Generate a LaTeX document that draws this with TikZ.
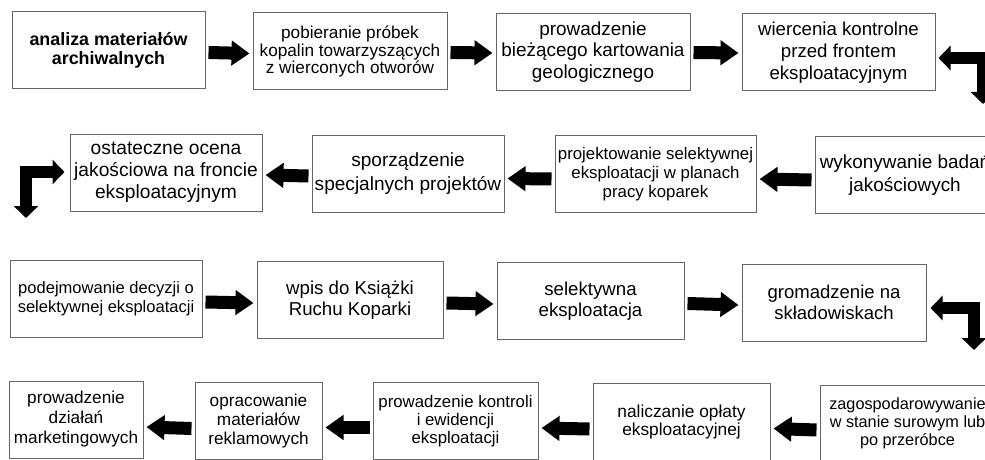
\documentclass[tikz,border=0pt]{standalone}
\usepackage{fontspec}
\setmainfont{Liberation Sans}
\usetikzlibrary{arrows.meta}

\tikzset{
  box/.style={draw=black!60, line width=0.75pt, align=center, inner sep=1pt, minimum height=77*0.75pt},
  wd/.style={minimum width=#1*0.75pt},
  fs/.style 2 args={font=\fontsize{#1}{#2}\selectfont},
  blk/.style={line width=9.75pt, -{Triangle[length=13.5pt, width=18pt]}},
  elbow/.style={line width=9pt, {Triangle[length=9pt, width=18pt]}-{Triangle[length=9pt, width=18pt]}},
}

\begin{document}
\begin{tikzpicture}[x=0.75pt, y=-0.75pt]
  \useasboundingbox (0,0) rectangle (985,460);
  \clip (0,0) rectangle (985,460);
  \fill[white] (0,0) rectangle (985,460);

  % row 1
  \node[box, wd=193, font=\fontsize{13.4}{14}\selectfont\bfseries] (a1) at (108.5,50.5) {analiza materiałów\\archiwalnych};
  \node[box, wd=194, fs={12.9}{13.3}] (a2) at (350,51.5) {pobieranie próbek\\kopalin towarzyszących\\z wierconych otworów};
  \node[box, wd=194, fs={14.2}{16}] (a3) at (593,52) {prowadzenie\\bieżącego kartowania\\geologicznego};
  \node[box, wd=193, fs={14}{16.5}] (a4) at (838.5,52.5) {wiercenia kontrolne\\przed frontem\\eksploatacyjnym};

  % row 2
  \node[box, wd=192, fs={14.4}{16.5}] (b1) at (166,172.5) {ostateczne ocena\\jakościowa na froncie\\eksploatacyjnym};
  \node[box, wd=192, fs={14.3}{18}] (b2) at (408,173.5) {sporządzenie\\specjalnych projektów};
  \node[box, wd=201, fs={12.6}{14.3}] (b3) at (655.5,174) {projektowanie selektywnej\\eksploatacji w planach\\pracy koparek};
  \node[box, wd=180, fs={14.2}{17}] (b4) at (905,175) {wykonywanie badań\\jakościowych};

  % row 3
  \node[box, wd=192, fs={12.4}{14.3}] (c1) at (106,299) {podejmowanie decyzji o\\selektywnej eksploatacji};
  \node[box, wd=186, fs={14}{15.8}] (c2) at (350,300) {wpis do Książki\\Ruchu Koparki};
  \node[box, wd=187, fs={14}{15.8}] (c3) at (590.5,301) {selektywna\\eksploatacja};
  \node[box, wd=184, fs={13.9}{15.8}] (c4) at (834,302.5) {gromadzenie na\\składowiskach};

  % row 4
  \node[box, wd=134, fs={12.9}{15}] (d1) at (76,419.5) {prowadzenie\\działań\\marketingowych};
  \node[box, wd=127, fs={12.9}{14.3}] (d2) at (258.5,421) {opracowanie\\materiałów\\reklamowych};
  \node[box, wd=165, fs={12.6}{13.5}] (d3) at (455.5,421) {prowadzenie kontroli\\i ewidencji\\eksploatacji};
  \node[box, wd=177, fs={13}{13.8}] (d4) at (681.5,422) {naliczanie opłaty\\eksploatacyjnej};
  \node[box, wd=175, fs={12.2}{13.7}] (d5) at (907.5,423.5) {zagospodarowywanie\\w stanie surowym lub\\po przeróbce};

  % free ends of the elbows
  \coordinate (e1) at (983,104);
  \coordinate (e2) at (26,218);
  \coordinate (e3) at (974,350);

  % straight arrows
  \foreach \s/\t/\dy in {a1/a2/2, a2/a3/1, a3/a4/0.5, c1/c2/3, c2/c3/3, c3/c4/2.5}
    \draw[blk] ([shift={(3,\dy)}]\s.east) -- ([shift={(-3,\dy)}]\t.west);
  \foreach \s/\t/\dy in {b2/b1/2.5, b3/b2/5, b4/b3/5, d2/d1/7.5, d3/d2/6.5, d4/d3/7, d5/d4/6.5}
    \draw[blk] ([shift={(-3,\dy)}]\s.west) -- ([shift={(3,\dy)}]\t.east);

  % elbows
  \draw[elbow] ([shift={(3,5.5)}]a4.east) -| (e1);
  \draw[elbow] ([shift={(-5,-0.5)}]b1.west) -| (e2);
  \draw[elbow] ([shift={(4,5.5)}]c4.east) -| (e3);
\end{tikzpicture}
\end{document}
